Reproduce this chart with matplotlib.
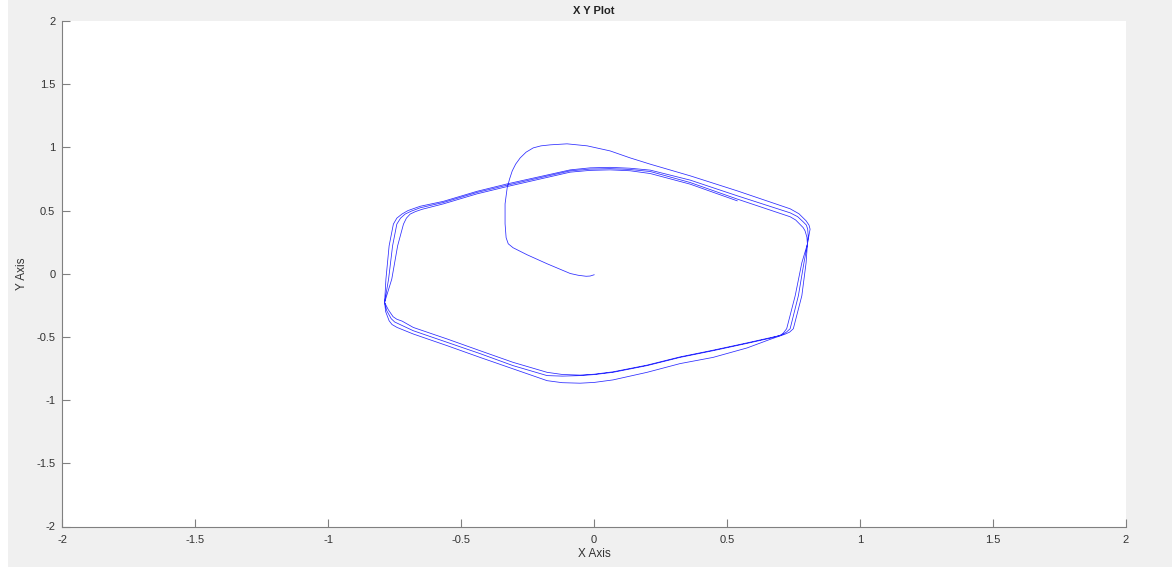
import numpy as np
import matplotlib.pyplot as plt
from matplotlib.patches import Rectangle

plt.rcParams['font.family'] = ['Liberation Sans', 'DejaVu Sans']

# TRANSIENT: from the origin, over the top bump, onto the cycle
trans_x = [0.000, -0.015, -0.030, -0.060, -0.090, -0.177, -0.252, -0.305, -0.323, -0.331,
           -0.335, -0.335, -0.327, -0.318, -0.308, -0.295, -0.278, -0.256, -0.229, -0.200,
           -0.165, -0.102, -0.026, 0.060, 0.135, 0.211, 0.361, 0.538, 0.737, 0.770,
           0.797, 0.808, 0.812, 0.806, 0.802]
trans_y = [-0.008, -0.018, -0.020, -0.012, 0.002, 0.079, 0.150, 0.206, 0.237, 0.285,
           0.395, 0.553, 0.680, 0.750, 0.814, 0.868, 0.917, 0.962, 0.996, 1.012,
           1.020, 1.028, 1.012, 0.972, 0.917, 0.867, 0.775, 0.656, 0.514, 0.475,
           0.419, 0.385, 0.353, 0.285, 0.235]

# PASS 1: right side, bottom, left side, upper left edge
pass1_x = [0.797, 0.781, 0.749, 0.735, 0.718, 0.662, 0.575, 0.447, 0.323, 0.199,
           0.071, 0.000, -0.053, -0.120, -0.177, -0.305, -0.429, -0.553, -0.680, -0.741,
           -0.760, -0.771, -0.784, -0.788, -0.783, -0.771, -0.755, -0.742, -0.723, -0.700,
           -0.654, -0.567, -0.441, -0.327, -0.090, -0.015, 0.060]
pass1_y = [0.087, -0.174, -0.435, -0.462, -0.478, -0.519, -0.587, -0.662, -0.711, -0.780,
           -0.840, -0.860, -0.866, -0.862, -0.846, -0.753, -0.662, -0.569, -0.477, -0.425,
           -0.402, -0.372, -0.300, -0.227, -0.042, 0.221, 0.393, 0.440, 0.472, 0.500,
           0.534, 0.573, 0.652, 0.711, 0.822, 0.838, 0.842]
ret1_x = [0.135, 0.211, 0.361, 0.538, 0.737, 0.765, 0.786, 0.798, 0.803, 0.805, 0.802]
ret1_y = [0.835, 0.820, 0.741, 0.617, 0.482, 0.452, 0.411, 0.385, 0.353, 0.300, 0.235]

# PASS 2
pass2_x = [0.789, 0.768, 0.737, 0.723, 0.707, 0.662, 0.575, 0.447, 0.323, 0.199,
           0.071, 0.000, -0.053, -0.120, -0.177, -0.305, -0.429, -0.553, -0.680, -0.729,
           -0.750, -0.763, -0.780, -0.788, -0.773, -0.758, -0.742, -0.728, -0.711, -0.688,
           -0.654, -0.567, -0.441, -0.327, -0.090, -0.015, 0.060]
pass2_y = [0.087, -0.174, -0.435, -0.462, -0.482, -0.510, -0.551, -0.609, -0.662, -0.727,
           -0.780, -0.798, -0.806, -0.810, -0.806, -0.727, -0.632, -0.543, -0.451, -0.403,
           -0.382, -0.356, -0.292, -0.227, -0.042, 0.221, 0.393, 0.440, 0.472, 0.495,
           0.522, 0.564, 0.643, 0.701, 0.814, 0.828, 0.832]
ret2_x = [0.135, 0.211, 0.361, 0.538, 0.737, 0.758, 0.774, 0.786, 0.793, 0.800, 0.802]
ret2_y = [0.825, 0.809, 0.722, 0.591, 0.451, 0.425, 0.391, 0.365, 0.340, 0.290, 0.235]

# PASS 3 (ends on the upper right edge)
pass3_x = [0.781, 0.756, 0.724, 0.712, 0.699, 0.662, 0.575, 0.447, 0.323, 0.199,
           0.071, 0.000, -0.053, -0.120, -0.177, -0.305, -0.429, -0.553, -0.680, -0.722,
           -0.742, -0.756, -0.774, -0.788, -0.761, -0.739, -0.717, -0.706, -0.692, -0.672,
           -0.647, -0.567, -0.441, -0.327, -0.090, -0.015, 0.060]
pass3_y = [0.087, -0.174, -0.435, -0.468, -0.490, -0.506, -0.547, -0.605, -0.658, -0.723,
           -0.776, -0.795, -0.802, -0.797, -0.780, -0.701, -0.609, -0.516, -0.425, -0.375,
           -0.360, -0.340, -0.285, -0.227, -0.042, 0.221, 0.393, 0.440, 0.472, 0.492,
           0.510, 0.553, 0.632, 0.690, 0.804, 0.818, 0.822]
ret3_x = [0.135, 0.211, 0.361, 0.538]
ret3_y = [0.815, 0.793, 0.709, 0.577]

tick_values = [-2, -1.5, -1, -0.5, 0, 0.5, 1, 1.5, 2]
tick_labels = ["-2", "-1.5", "-1", "-0.5", "0", "0.5", "1", "1.5", "2"]

x = np.concatenate([trans_x, pass1_x, ret1_x, pass2_x, ret2_x, pass3_x, ret3_x])
y = np.concatenate([trans_y, pass1_y, ret1_y, pass2_y, ret2_y, pass3_y, ret3_y])

# FIGURE
W, H = 1172, 571
fig = plt.figure(figsize=(W / 100, H / 100), dpi=100, facecolor="#f0f0f0")

# white strips at the screenshot edges
fig.patches.append(Rectangle((0, 0), 8 / W, 1, transform=fig.transFigure,
                             facecolor="white", edgecolor="none"))
fig.patches.append(Rectangle((0, 0), 1, 4 / H, transform=fig.transFigure,
                             facecolor="white", edgecolor="none"))

ax = fig.add_axes([62.3 / W, 44.5 / H, 1063.7 / W, 505.5 / H])
ax.set_facecolor("white")

ax.plot(x, y, color="#2b2bff", linewidth=0.55, solid_joinstyle="round")

ax.set_xlim(-2, 2)
ax.set_ylim(-2, 2)
ax.set_xticks(tick_values)
ax.set_xticklabels(tick_labels)
ax.set_yticks(tick_values)
ax.set_yticklabels(tick_labels)

for side in ["top", "right"]:
    ax.spines[side].set_visible(False)
for side in ["left", "bottom"]:
    ax.spines[side].set_color("#808080")
    ax.spines[side].set_linewidth(0.8)

ax.tick_params(direction="in", length=6, width=0.8, color="#808080",
               labelcolor="#333333", labelsize=8)
ax.tick_params(axis="x", pad=6)
ax.tick_params(axis="y", pad=5)

ax.set_title("X Y Plot", fontsize=8, fontweight="bold", color="#222222", pad=5)
ax.set_xlabel("X Axis", fontsize=8.5, color="#333333", labelpad=2)
ax.set_ylabel("Y Axis", fontsize=8.5, color="#333333", labelpad=6)

fig.savefig("out.png", dpi=100, facecolor=fig.get_facecolor())
